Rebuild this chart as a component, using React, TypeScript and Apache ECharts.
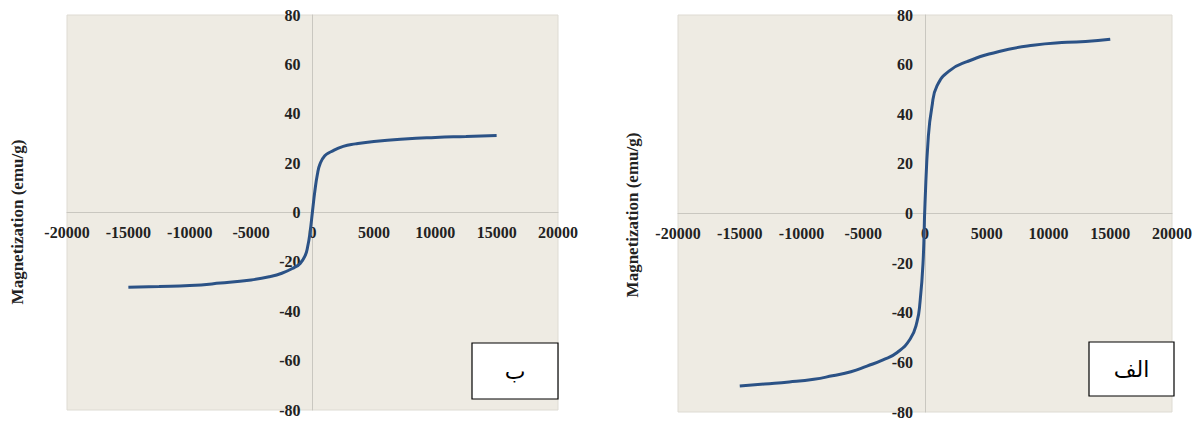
import React, { useEffect, useRef } from "react";
import * as echarts from "echarts";

// Sample ب (left panel)
const fieldB = [-15000, -12500, -10000, -7500, -5000, -3500, -2500, -1500, -1000, -600, -400, -200, 0, 200, 400, 600, 1000, 1500, 2500, 3500, 5000, 7500, 10000, 12500, 15000];
const magB = [-30.3, -30.0, -29.6, -28.6, -27.3, -26.0, -24.6, -22.3, -20.6, -17.5, -14.0, -8.0, 0.5, 9.0, 15.5, 19.5, 23.0, 24.6, 26.8, 27.8, 28.8, 29.8, 30.4, 30.8, 31.2];

// Sample الف (right panel)
const fieldA = [-15000, -13000, -11000, -9000, -7500, -6000, -4700, -3400, -2250, -1200, -650, -400, -160, 0, 270, 560, 970, 2000, 3400, 6000, 8750, 11500, 13000, 15000];
const magA = [-69.5, -68.7, -67.9, -66.8, -65.4, -63.8, -61.5, -59.0, -56.0, -50.6, -43.7, -35.5, -20.0, 4.0, 31.0, 43.0, 51.4, 57.6, 61.2, 65.3, 67.8, 69.0, 69.3, 70.2];

const xTicks = { min: -20000, max: 20000, interval: 5000 };
const yTicks = { min: -80, max: 80, interval: 20 };
const yTitle = "Magnetization (emu/g)";
const labelB = "ب";
const labelA = "الف";

const SERIF = "Liberation Serif";
const LINE = "#2B5286";
const AXIS = "#C9C7C0";

export default function App() {
  const ref = useRef<HTMLDivElement>(null);
  useEffect(() => {
    document.body.style.margin = "0";
    const chart = echarts.init(ref.current!, null, { renderer: "svg" });
    const grids = [
      { left: 67, top: 15, width: 491, height: 395 },
      { left: 678, top: 15, width: 494, height: 397 },
    ];
    const label = {
      fontFamily: SERIF,
      fontWeight: "bold",
      fontSize: 16,
      color: "#222",
      margin: 12,
      formatter: (v: number) => String(v),
    };
    const mkX = (i: number) => ({
      type: "value",
      gridIndex: i,
      position: "bottom",
      offset: -grids[i].height / 2,
      min: xTicks.min,
      max: xTicks.max,
      interval: xTicks.interval,
      axisLine: { show: true, onZero: false, lineStyle: { color: AXIS, width: 1 } },
      axisTick: { show: false },
      splitLine: { show: false },
      axisLabel: label,
    });
    const mkY = (i: number) => ({
      type: "value",
      gridIndex: i,
      position: "left",
      offset: -grids[i].width / 2,
      min: yTicks.min,
      max: yTicks.max,
      interval: yTicks.interval,
      axisLine: { show: true, onZero: false, lineStyle: { color: AXIS, width: 1 } },
      axisTick: { show: false },
      splitLine: { show: false },
      axisLabel: label,
    });
    const boxes = [
      { x: 472, y: 343, w: 86, h: 56, t: labelB },
      { x: 1089, y: 342, w: 85, h: 54, t: labelA },
    ];
    chart.setOption({
      animation: false,
      backgroundColor: "#ffffff",
      grid: grids.map((g) => ({ ...g, show: true, backgroundColor: "#EEEBE3", borderColor: "#DEDBD3", borderWidth: 1 })),
      xAxis: [mkX(0), mkX(1)],
      yAxis: [mkY(0), mkY(1)],
      series: [
        {
          type: "line",
          xAxisIndex: 0,
          yAxisIndex: 0,
          data: fieldB.map((h, i) => [h, magB[i]]),
          smooth: 0.5,
          showSymbol: false,
          lineStyle: { color: LINE, width: 3 },
          z: 5,
        },
        {
          type: "line",
          xAxisIndex: 1,
          yAxisIndex: 1,
          data: fieldA.map((h, i) => [h, magA[i]]),
          smooth: 0.5,
          showSymbol: false,
          lineStyle: { color: LINE, width: 3 },
          z: 5,
        },
      ],
      graphic: [
        {
          type: "text",
          x: 17,
          y: 222,
          rotation: Math.PI / 2,
          style: { text: yTitle, fontFamily: SERIF, fontWeight: "bold", fontSize: 17, fill: "#222", textAlign: "center", textVerticalAlign: "middle" },
        },
        {
          type: "text",
          x: 632,
          y: 215,
          rotation: Math.PI / 2,
          style: { text: yTitle, fontFamily: SERIF, fontWeight: "bold", fontSize: 17, fill: "#222", textAlign: "center", textVerticalAlign: "middle" },
        },
        ...boxes.flatMap((b) => [
          {
            type: "rect",
            shape: { x: b.x, y: b.y, width: b.w, height: b.h },
            style: { fill: "#ffffff", stroke: "#000000", lineWidth: 1.2 },
            z: 10,
          },
          {
            type: "text",
            x: b.x + b.w / 2,
            y: b.y + b.h / 2,
            style: { text: b.t, fontFamily: "DejaVu Sans", fontSize: 22, fill: "#000", textAlign: "center", textVerticalAlign: "middle" },
            z: 11,
          },
        ]),
      ],
    });
    return () => chart.dispose();
  }, []);
  return <div ref={ref} style={{ width: 1196, height: 421 }} />;
}
